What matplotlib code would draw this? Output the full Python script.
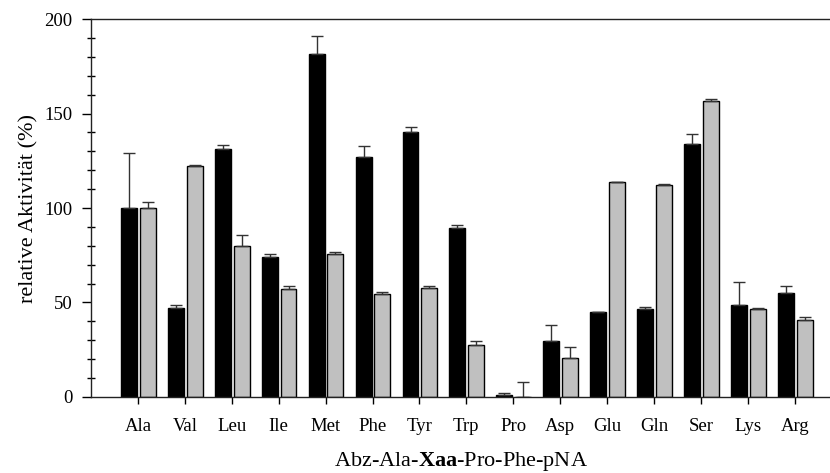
import numpy as np
import matplotlib
matplotlib.use("Agg")
import matplotlib.pyplot as plt
from matplotlib.ticker import MultipleLocator

plt.rcParams["font.family"] = ["Liberation Serif", "DejaVu Serif"]
plt.rcParams["mathtext.fontset"] = "custom"
plt.rcParams["mathtext.rm"] = "Liberation Serif"
plt.rcParams["mathtext.bf"] = "Liberation Serif:bold"

residues = ["Ala", "Val", "Leu", "Ile", "Met", "Phe", "Tyr", "Trp", "Pro",
            "Asp", "Glu", "Gln", "Ser", "Lys", "Arg"]
black_vals = [100, 47, 131, 74, 181.5, 127, 140.3, 89.2, 1, 29.8, 44.8, 46.4, 133.7, 48.5, 55]
black_err = [29, 1.6, 2.5, 1.4, 9.7, 5.8, 2.3, 2.0, 1.0, 8.3, 0.2, 1.4, 5.3, 12.2, 3.6]
gray_vals = [100, 122, 79.7, 57.3, 75.7, 54.5, 57.8, 27.7, 0, 20.8, 113.6, 112, 156.8, 46.4, 40.6]
gray_err = [3.3, 0.8, 5.8, 1.3, 1.0, 0.9, 0.8, 2.1, 7.8, 5.5, 0.3, 0.5, 0.9, 0.5, 1.6]

fig = plt.figure(figsize=(8.30, 4.73), dpi=100)
ax = fig.add_axes([0.1096, 0.1607, 0.8904, 0.7991])

x = np.arange(len(residues))
w = 0.34
err_kw = dict(ecolor="#333333", elinewidth=1.0, capsize=4, capthick=1.0)
ax.bar(x - 0.19, black_vals, w, color="black", edgecolor="black", linewidth=1.0,
       yerr=[np.zeros(len(x)), black_err], error_kw=err_kw, zorder=2)
ax.bar(x + 0.21, gray_vals, w, color="#c0c0c0", edgecolor="black", linewidth=1.0,
       yerr=[np.zeros(len(x)), gray_err], error_kw=err_kw, zorder=2)

ax.set_xlim(-1, 14.75)
ax.set_ylim(0, 200)
ax.set_xticks(x)
ax.set_xticklabels(residues, fontsize=13.5)
ax.yaxis.set_major_locator(MultipleLocator(50))
ax.yaxis.set_minor_locator(MultipleLocator(10))
ax.tick_params(axis="y", which="major", direction="out", length=6.5, width=1,
               labelsize=13.5, pad=7)
ax.tick_params(axis="y", which="minor", direction="inout", length=6, width=1)
ax.tick_params(axis="x", which="major", direction="out", length=5, width=1, pad=10)

ax.spines["right"].set_visible(False)
for s in ["left", "top", "bottom"]:
    ax.spines[s].set_linewidth(1.0)
    ax.spines[s].set_color("#222222")

ax.set_ylabel("relative Aktivität (%)", fontsize=16, labelpad=4)
ax.set_xlabel(r"Abz-Ala-$\mathbf{Xaa}$-Pro-Phe-pNA", fontsize=16, labelpad=11)

fig.savefig("out.png", dpi=100)
